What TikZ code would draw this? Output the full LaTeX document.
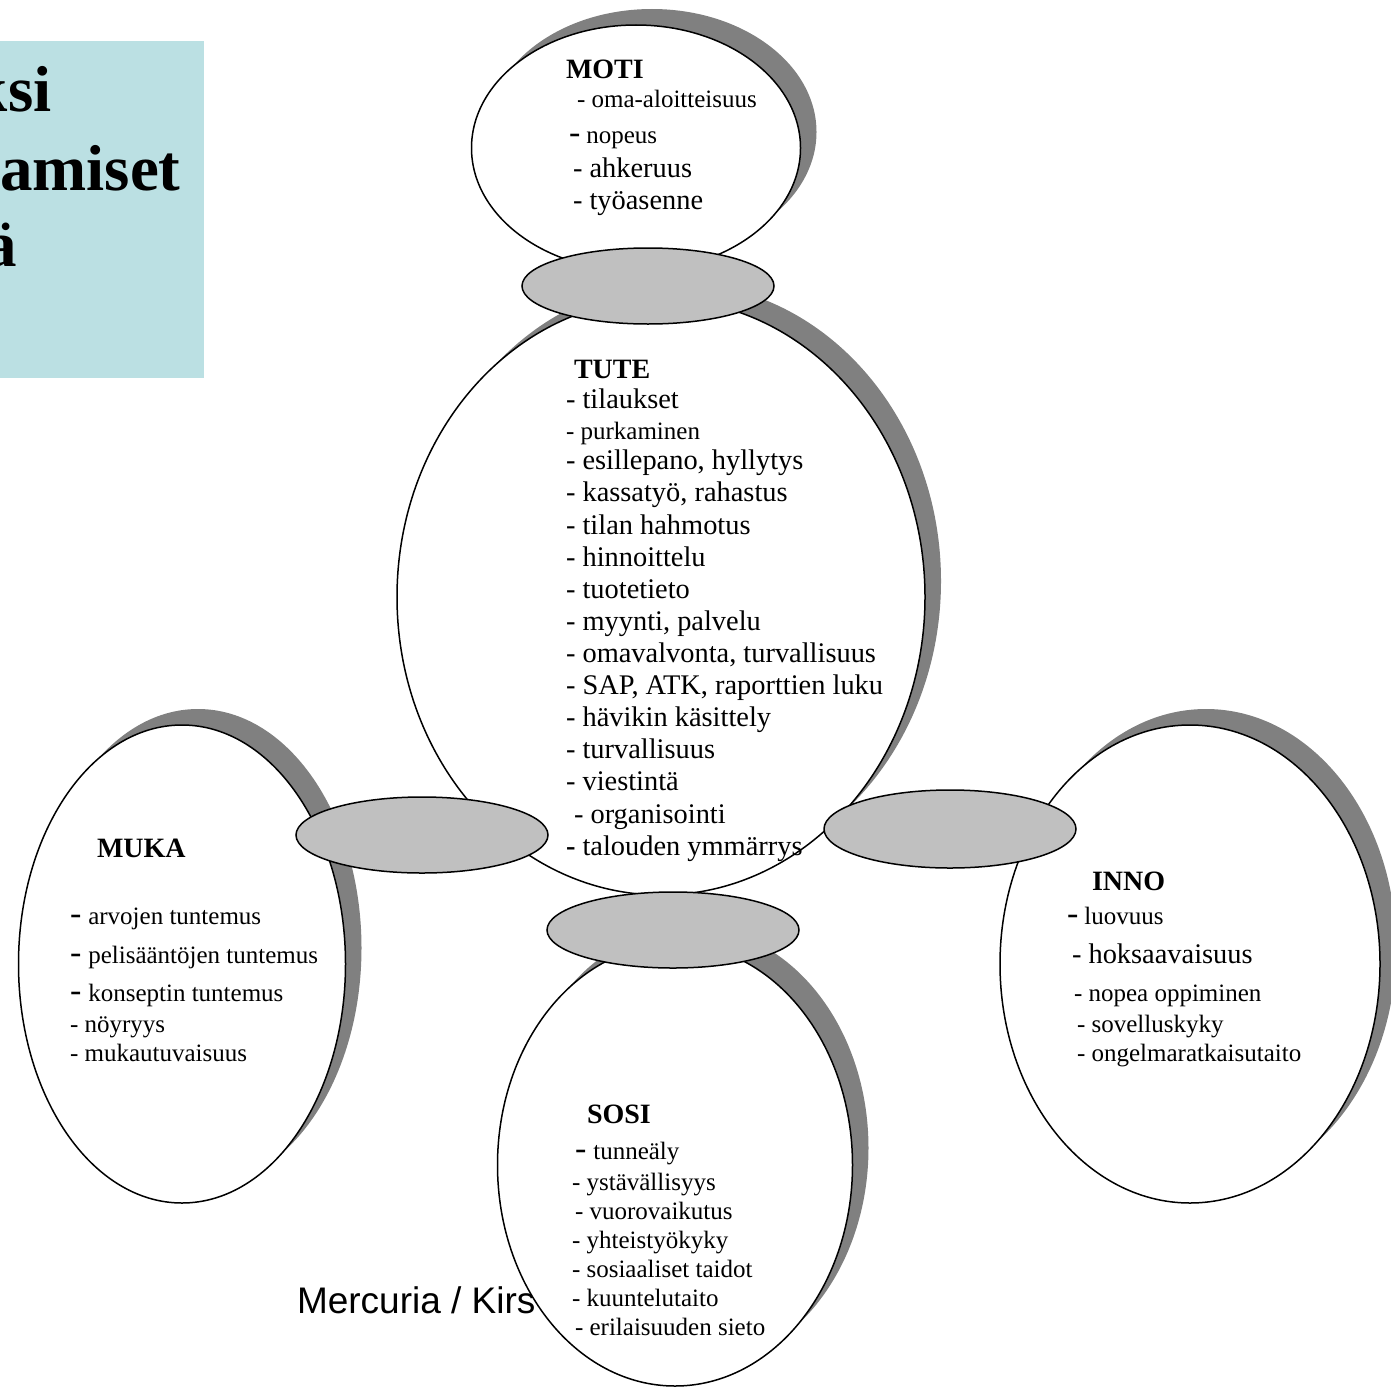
\documentclass[tikz,border=0pt]{standalone}
\usepackage{fontspec}
\setmainfont{Liberation Serif}
\newfontfamily\arialf{Liberation Sans}
\usetikzlibrary{shapes.geometric}
\definecolor{titlebg}{HTML}{BBE0E3}
\definecolor{shadowgray}{HTML}{808080}
\definecolor{linkgray}{HTML}{C0C0C0}
\newcommand\fsz[1]{\fontsize{#1}{#1}\selectfont}
\newcommand\bigdash{{\fsz{34}-}}
\begin{document}
\begin{tikzpicture}[x=1pt,y=-1pt,
  oval/.style={ellipse, draw=black, line width=1.5pt, fill=white, inner sep=0pt},
  ovalshadow/.style={ellipse, fill=shadowgray, inner sep=0pt},
  link/.style={ellipse, draw=black, line width=1.5pt, fill=linkgray, inner sep=0pt,
               minimum width=252pt, minimum height=76pt},
  lbl/.style={anchor=base west, inner sep=0pt, outer sep=0pt},
  item/.style={lbl, font=\fsz{25}},
  itemL/.style={lbl, font=\fsz{28.4}},
  head/.style={lbl, font=\fsz{28}\bfseries},
  titletxt/.style={lbl, font=\fsz{65}\bfseries},
]
\useasboundingbox (0,0) rectangle (1391,1386);
\clip (0,0) rectangle (1391,1386);

% title box
\node[fill=titlebg, anchor=north west, inner sep=0pt, minimum width=204pt, minimum height=337pt] (titlebox) at (0,41) {};
\node[titletxt] (t1) at (-28,112) {ksi};
\node[titletxt] (t2) at (0,190) {amiset};
\node[titletxt] (t3) at (-15,266) {ä};

% MOTI
\node[ovalshadow, minimum width=329pt, minimum height=246pt] (motiS) at (652,132) {};
\node[oval, minimum width=329pt, minimum height=246pt] (moti) at (636,148) {};

% TUTE
\node[ovalshadow, minimum width=528pt, minimum height=596pt] (tuteS) at (677,581) {};
\node[oval, minimum width=528pt, minimum height=596pt] (tute) at (661,597) {};

% MUKA
\node[ovalshadow, minimum width=327pt, minimum height=478pt] (mukaS) at (198,948) {};
\node[oval, minimum width=327pt, minimum height=478pt] (muka) at (182,964) {};

% INNO
\node[ovalshadow, minimum width=380pt, minimum height=478pt] (innoS) at (1206,948) {};
\node[oval, minimum width=380pt, minimum height=478pt] (inno) at (1190,964) {};

% footer text (partly hidden by SOSI)
\node[lbl, font=\arialf\fsz{37}] (footer) at (297,1313) {Mercuria / Kirs};

% SOSI
\node[ovalshadow, minimum width=355pt, minimum height=442pt] (sosiS) at (691,1148) {};
\node[oval, minimum width=355pt, minimum height=442pt] (sosi) at (675,1165) {};

% connecting ellipses
\node[link] (linkTop) at (648,286) {};
\node[link] (linkLeft) at (422,835) {};
\node[link, minimum height=78pt] (linkRight) at (950,829) {};
\node[link] (linkBottom) at (673,930) {};

% MOTI text
\node[head] (motiH) at (566,79) {MOTI};
\node[item] (moti1) at (577,107) {- oma-aloitteisuus};
\node[item] (moti2) at (569,143) {\bigdash\hspace{6pt}nopeus};
\node[itemL] (moti3) at (573,177) {- ahkeruus};
\node[itemL] (moti4) at (573,209) {- työasenne};

% TUTE text
\node[head] (tuteH) at (574,378) {TUTE};
\node[itemL] (tute1) at (566,408) {- tilaukset};
\node[item] (tute2) at (566,439) {- purkaminen};
\node[itemL] (tute3) at (566,469) {- esillepano, hyllytys};
\node[itemL] (tute4) at (566,501) {- kassatyö, rahastus};
\node[itemL] (tute5) at (566,534) {- tilan hahmotus};
\node[itemL] (tute6) at (566,566) {- hinnoittelu};
\node[itemL] (tute7) at (566,598) {- tuotetieto};
\node[itemL] (tute8) at (566,630) {- myynti, palvelu};
\node[itemL] (tute9) at (566,662) {- omavalvonta, turvallisuus};
\node[itemL] (tute10) at (566,694) {- SAP, ATK, raporttien luku};
\node[itemL] (tute11) at (566,726) {- hävikin käsittely};
\node[itemL] (tute12) at (566,758) {- turvallisuus};
\node[itemL] (tute13) at (566,790) {- viestintä};
\node[itemL] (tute14) at (574,823) {- organisointi};
\node[itemL] (tute15) at (566,855) {\textbf{-} talouden ymmärrys};

% MUKA text
\node[head] (mukaH) at (97,857) {MUKA};
\node[item] (muka1) at (70,924) {\bigdash\hspace{7pt}arvojen tuntemus};
\node[item] (muka2) at (70,963) {\bigdash\hspace{7pt}pelisääntöjen tuntemus};
\node[item] (muka3) at (70,1001) {\bigdash\hspace{7pt}konseptin tuntemus};
\node[item] (muka4) at (70,1032) {- nöyryys};
\node[item] (muka5) at (70,1061) {- mukautuvaisuus};

% INNO text
\node[head] (innoH) at (1092,890) {INNO};
\node[item] (inno1) at (1067,924) {\bigdash\hspace{6pt}luovuus};
\node[itemL] (inno2) at (1072,963) {- hoksaavaisuus};
\node[item] (inno3) at (1074,1001) {- nopea oppiminen};
\node[item] (inno4) at (1077,1032) {- sovelluskyky};
\node[item] (inno5) at (1077,1061) {- ongelmaratkaisutaito};

% SOSI text
\node[head] (sosiH) at (587,1123) {SOSI};
\node[item] (sosi1) at (575,1159) {\bigdash\hspace{7pt}tunneäly};
\node[item] (sosi2) at (572,1190) {- ystävällisyys};
\node[item] (sosi3) at (575,1219) {- vuorovaikutus};
\node[item] (sosi4) at (572,1248) {- yhteistyökyky};
\node[item] (sosi5) at (572,1277) {- sosiaaliset taidot};
\node[item] (sosi6) at (572,1306) {- kuuntelutaito};
\node[item] (sosi7) at (575,1335) {- erilaisuuden sieto};
\end{tikzpicture}
\end{document}
